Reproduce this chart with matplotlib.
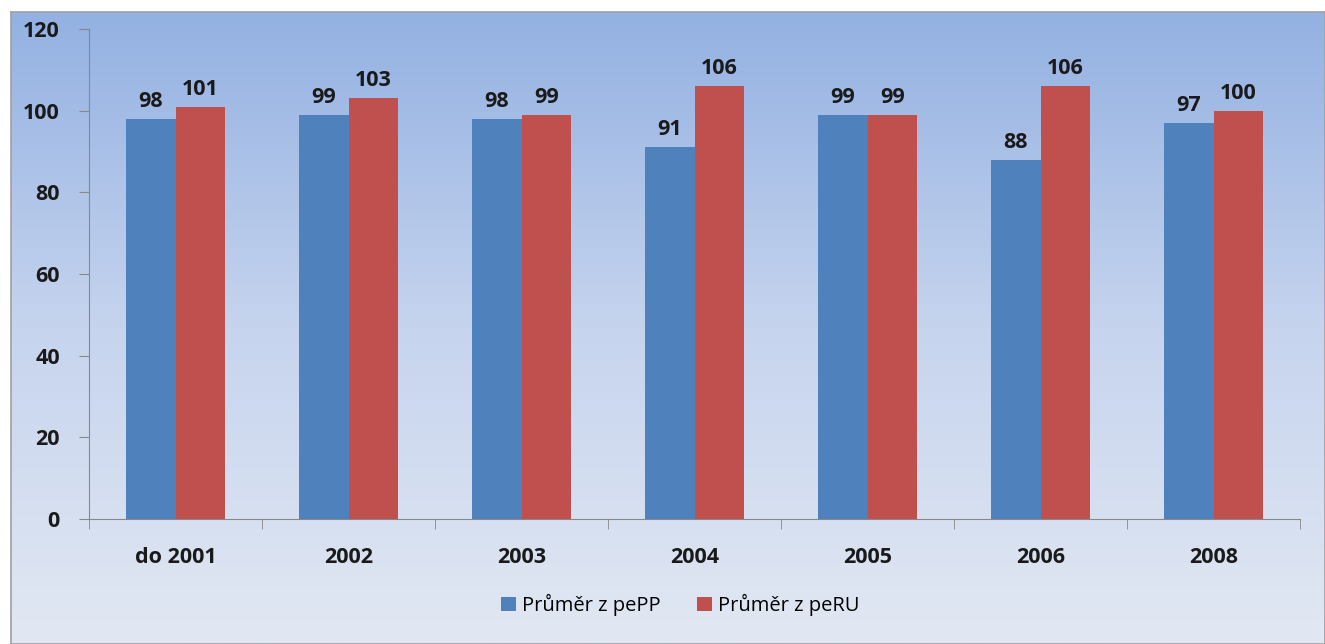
import matplotlib
matplotlib.use("Agg")
import matplotlib.pyplot as plt
import numpy as np
from matplotlib.colors import LinearSegmentedColormap

categories = ["do 2001", "2002", "2003", "2004", "2005", "2006", "2008"]
pepp = [98, 99, 98, 91, 99, 88, 97]
peru = [101, 103, 99, 106, 99, 106, 100]
series_names = ["Průměr z pePP", "Průměr z peRU"]
yticks = [0, 20, 40, 60, 80, 100, 120]

plt.rcParams["font.family"] = ["Open Sans", "DejaVu Sans"]

W, H = 1325, 644
fig = plt.figure(figsize=(W / 100, H / 100), dpi=100)
fig.patch.set_facecolor("white")

# gradient background panel with gray frame
bg = fig.add_axes([11 / W, 0, 1 - 11 / W, 1 - 12 / H])
grad = LinearSegmentedColormap.from_list("bg", ["#93b1e2", "#c6d4ee", "#e2e8f3"])
bg.imshow(np.linspace(0, 1, 256).reshape(-1, 1), aspect="auto", cmap=grad,
          extent=[0, 1, 0, 1], origin="upper")
bg.set_xticks([])
bg.set_yticks([])
for s in bg.spines.values():
    s.set_color("#a0a0a0")
    s.set_linewidth(1.2)

# main axes
x0, x1 = 89, 1300
y0, y1 = 519, 29
ax = fig.add_axes([x0 / W, 1 - y0 / H, (x1 - x0) / W, (y0 - y1) / H])
ax.patch.set_alpha(0)

x = np.arange(len(categories))
w = 0.289
b1 = ax.bar(x - w / 2, pepp, w, color="#4f81bd", label=series_names[0])
b2 = ax.bar(x + w / 2, peru, w, color="#c0504d", label=series_names[1])

for bars in (b1, b2):
    for bar in bars:
        h = bar.get_height()
        ax.annotate(f"{h:.0f}", (bar.get_x() + bar.get_width() / 2, h),
                    xytext=(0, 5), textcoords="offset points",
                    ha="center", va="bottom", fontsize=15.5, fontweight="bold",
                    color="#1a1a1a")

ax.set_xlim(-0.5, len(categories) - 0.5)
ax.set_ylim(0, 120)
ax.set_yticks(yticks)
ax.set_yticklabels([str(v) for v in yticks], fontsize=15.5, fontweight="bold")
ax.set_xticks(x)
ax.set_xticklabels(categories, fontsize=15.5, fontweight="bold")
ax.tick_params(axis="x", length=0, pad=20)
ax.set_xticks(np.arange(len(categories) + 1) - 0.5, minor=True)
ax.tick_params(axis="x", which="minor", length=7, color="#888888")
ax.tick_params(axis="y", length=7, color="#888888", pad=14)
for lab in ax.get_yticklabels() + ax.get_xticklabels():
    lab.set_color("#1a1a1a")

for s in ("top", "right"):
    ax.spines[s].set_visible(False)
ax.spines["left"].set_color("#888888")
ax.spines["bottom"].set_color("#888888")

fig.legend(handles=[b1, b2], labels=series_names, loc="center",
           bbox_to_anchor=(680 / W, 1 - 605 / H), ncol=2, frameon=False,
           fontsize=14.5, handlelength=0.75, handleheight=0.75, handletextpad=0.3,
           columnspacing=1.8)

fig.savefig("out.png", dpi=100)
